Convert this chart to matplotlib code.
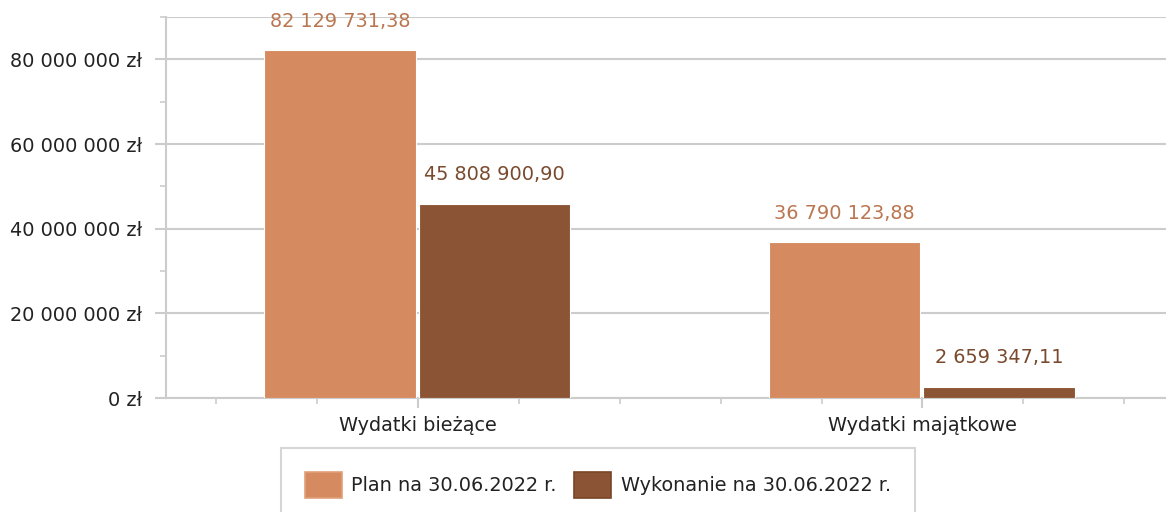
import matplotlib.pyplot as plt
import numpy as np
from matplotlib.ticker import MultipleLocator, FuncFormatter

categories = ['Wydatki bieżące', 'Wydatki majątkowe']
series = ['Plan na 30.06.2022 r.', 'Wykonanie na 30.06.2022 r.']
plan = [82129731.38, 36790123.88]
wykonanie = [45808900.90, 2659347.11]

bar_colors = ['#D68A5F', '#8B5535']
label_colors = ['#BA7650', '#7A4A2E']
edge_colors = ['#E0A07A', '#7A4628']


def pl_num(v, dec=2):
    s = f'{v:,.{dec}f}'
    return s.replace(',', ' ').replace('.', ',')


def zl(v, pos):
    return f'{int(v):,} zł'.replace(',', ' ')


plt.rcParams['font.family'] = ['DejaVu Sans']
fs = 13.9
fig = plt.figure(figsize=(11.66, 5.12), dpi=100)
ax = fig.add_axes([166/1166, 114/512, 1 - 166/1166, (398-17)/512])

x = np.arange(len(categories))
w = 0.3
offs = [-0.155, 0.152]
for i, (vals, name) in enumerate(zip([plan, wykonanie], series)):
    pos = x + offs[i]
    ax.bar(pos, vals, width=w, color=bar_colors[i], edgecolor='white',
           linewidth=0.8, label=name, zorder=3)
    for px, v in zip(pos, vals):
        ax.annotate(pl_num(v), (px, v), xytext=(0, 21), textcoords='offset points',
                    ha='center', va='center', fontsize=fs, color=label_colors[i])

ax.set_xlim(-0.5, 1.483)
ax.set_ylim(0, 90000000)
ax.yaxis.set_major_locator(MultipleLocator(20000000))
ax.yaxis.set_minor_locator(MultipleLocator(10000000))
ax.yaxis.set_major_formatter(FuncFormatter(zl))
ax.set_xticks(x)
ax.set_xticklabels(categories)
ax.xaxis.set_minor_locator(MultipleLocator(0.2))

ax.grid(axis='y', which='major', color='#cccccc', linewidth=1.5, zorder=0)
ax.axhline(90000000, color='#cccccc', linewidth=1.5, zorder=0)
for s in ['top', 'right']:
    ax.spines[s].set_visible(False)
for s in ['left', 'bottom']:
    ax.spines[s].set_color('#cccccc')
    ax.spines[s].set_linewidth(1.5)

ax.tick_params(axis='y', which='major', length=8, width=1.5, color='#cccccc',
               labelsize=fs, labelcolor='#222222', pad=9)
ax.tick_params(axis='y', which='minor', length=4, width=1.2, color='#cccccc')
ax.tick_params(axis='x', which='major', length=7, width=1.5, color='#cccccc',
               labelsize=fs, labelcolor='#222222', pad=6)
ax.tick_params(axis='x', which='minor', length=4, width=1.2, color='#cccccc')

handles = [plt.Rectangle((0, 0), 1, 1, facecolor=bar_colors[i], edgecolor=edge_colors[i],
                         linewidth=1.2) for i in range(2)]
leg = fig.legend(handles, series, loc='upper center', bbox_to_anchor=(598/1166, 74/512),
                 ncol=2, fontsize=fs, frameon=True, fancybox=False,
                 handlelength=1.9, handleheight=1.7, handletextpad=0.5,
                 columnspacing=0.9, borderpad=1.25, labelcolor='#222222')
leg.get_frame().set_edgecolor('#cccccc')
leg.get_frame().set_linewidth(1.5)

fig.savefig('out.png', dpi=100)
